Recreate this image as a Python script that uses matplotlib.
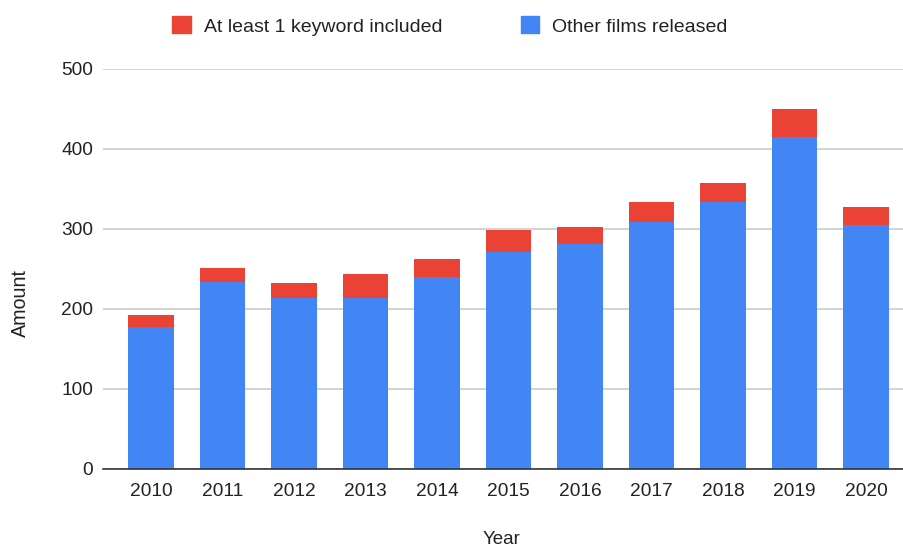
import matplotlib.pyplot as plt
from matplotlib.patches import Patch
import numpy as np

plt.rcParams['font.family'] = ['Liberation Sans', 'DejaVu Sans']

# films per year, split by keyword match
years = ['2010', '2011', '2012', '2013', '2014', '2015',
         '2016', '2017', '2018', '2019', '2020']
other_films = [177, 234, 214, 214, 240, 271, 281, 309, 333, 415, 305]
keyword_films = [15, 17, 18, 30, 22, 27, 21, 24, 24, 34, 22]

blue = '#4285F4'
red = '#EA4335'

fig = plt.figure(figsize=(9.04, 5.46), dpi=100)
ax = fig.add_axes([103/904, 77.3/546, 801/904, 400/546])

x = np.arange(len(years))
ax.bar(x, other_films, width=0.64, color=blue, zorder=2)
ax.bar(x, keyword_films, width=0.64, bottom=other_films, color=red, zorder=2)

ax.set_xlim(-0.67, 10.53)
ax.set_ylim(0, 500)
ax.set_yticks([0, 100, 200, 300, 400, 500])
ax.set_xticks(x)
ax.set_xticklabels(years)
ax.grid(axis='y', color='#cccccc', linewidth=1.2, zorder=0)
for s in ['top', 'right', 'left']:
    ax.spines[s].set_visible(False)
ax.spines['bottom'].set_color('#333333')
ax.spines['bottom'].set_linewidth(1.2)
ax.spines['bottom'].set_zorder(3)
ax.tick_params(axis='both', length=0, labelsize=13.8, colors='#222222')
ax.tick_params(axis='x', pad=10.5)
ax.tick_params(axis='y', pad=7)

fig.text(502/904, 1 - 539/546, 'Year', ha='center', va='center',
         fontsize=13.5, color='#222222')
fig.text(20/904, 1 - 303/546, 'Amount', ha='center', va='center',
         rotation=90, fontsize=14.2, color='#222222')

handles = [Patch(color=red, label='At least 1 keyword included'),
           Patch(color=blue, label='Other films released')]
fig.legend(handles=handles, loc='center', bbox_to_anchor=(450/904, 1 - 26/546),
           ncol=2, frameon=False, fontsize=14, handlelength=0.95,
           handleheight=0.95, handletextpad=0.67, columnspacing=4.05,
           labelcolor='#222222')

plt.savefig('out.png', dpi=100)
